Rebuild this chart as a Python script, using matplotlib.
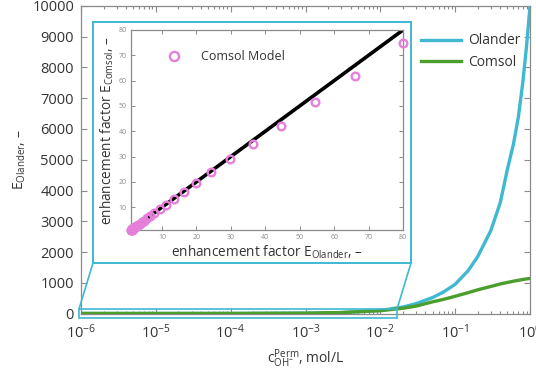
import matplotlib
matplotlib.use("Agg")
import matplotlib.pyplot as plt
from matplotlib.lines import Line2D
from matplotlib.patches import Rectangle
from matplotlib.ticker import LogLocator, NullFormatter, MultipleLocator

plt.rcParams['font.family'] = ['Open Sans', 'DejaVu Sans']
plt.rcParams['mathtext.fontset'] = 'custom'
plt.rcParams['mathtext.rm'] = 'Open Sans'
plt.rcParams['mathtext.it'] = 'Open Sans'
plt.rcParams['mathtext.bf'] = 'Open Sans'

# ---- main data ----
c_perm = [1e-6, 1e-5, 1e-4, 1e-3, 3e-3, 1e-2, 0.02, 0.03, 0.05, 0.07, 0.1,
          0.15, 0.2, 0.3, 0.4, 0.5, 0.6, 0.7, 0.8, 0.9, 1.0]
E_olander = [1, 1.1, 2, 11, 31, 100, 210, 320, 520, 700, 950,
             1400, 1850, 2700, 3600, 4700, 5500, 6400, 7500, 8700, 10000]
E_comsol = [1, 1.1, 2, 11, 30, 92, 170, 240, 380, 460, 560,
            680, 770, 880, 960, 1010, 1050, 1080, 1105, 1125, 1140]

# ---- inset data ----
inset_olander = [80, 66, 54.5, 44.5, 36.5, 29.8, 24.3, 19.8, 16.3, 13.5, 11.2,
                 9.3, 7.8, 6.6, 5.6, 4.8, 4.1, 3.55, 3.1, 2.72, 2.41, 2.16,
                 1.95, 1.78, 1.64, 1.53, 1.43, 1.35, 1.29, 1.24, 1.2, 1.16,
                 1.13, 1.1]
inset_comsol = [75, 62, 51.5, 42, 35, 29, 24, 19.5, 16, 13.3, 11,
                9.2, 7.7, 6.5, 5.55, 4.75, 4.08, 3.53, 3.08, 2.7, 2.4, 2.15,
                1.94, 1.77, 1.63, 1.52, 1.42, 1.34, 1.28, 1.23, 1.19, 1.15,
                1.12, 1.1]
parity = [1, 80]

CYAN = '#3fb8d2'
GREEN = '#4a9e2c'
PINK = '#e67fd9'
TXT = '#333333'
SPINE = '#8a8a8a'

W, H = 536, 369
fig = plt.figure(figsize=(W / 100, H / 100), dpi=100)

ax = fig.add_axes([81 / W, 1 - 313.5 / H, (530 - 81) / W, (313.5 - 6) / H])
ax.plot(c_perm, E_olander, color=CYAN, lw=2.4, label='Olander', zorder=3)
ax.plot(c_perm, E_comsol, color=GREEN, lw=2.4, label='Comsol', zorder=3)
ax.set_xscale('log')
ax.set_xlim(1e-6, 1)
ax.set_ylim(0, 10000)
ax.yaxis.set_major_locator(MultipleLocator(1000))
ax.xaxis.set_major_locator(LogLocator(base=10, numticks=10))
ax.xaxis.set_minor_locator(LogLocator(base=10, subs=range(2, 10), numticks=10))
ax.xaxis.set_minor_formatter(NullFormatter())
ax.tick_params(which='both', direction='in', top=True, right=True,
               colors=SPINE, labelcolor=TXT, labelsize=10.5, width=0.8)
ax.tick_params(which='major', length=4, pad=5)
ax.tick_params(axis='x', which='major', pad=7)
ax.tick_params(which='minor', length=2)
for s in ax.spines.values():
    s.set_color(SPINE)
    s.set_linewidth(0.9)
ax.set_ylabel(r'E$_{\mathregular{Olander}}$, –', fontsize=10, color=TXT, labelpad=3)
ax.set_xlabel(r'c$_{\mathregular{OH}^{-}}^{\mathregular{Perm}}$, mol/L', fontsize=10,
              color=TXT, labelpad=4)
leg = ax.legend(loc='upper left', bbox_to_anchor=(408 / W, 1 - 21 / H),
                bbox_transform=fig.transFigure, frameon=False, fontsize=10,
                handlelength=2.9, labelspacing=0.45, handletextpad=0.5)
for t in leg.get_texts():
    t.set_color(TXT)

# ---- zoom decoration (figure coordinates) ----
box = Rectangle((93 / W, 1 - 263 / H), (411 - 93) / W, (263 - 22) / H,
                transform=fig.transFigure, fill=False, edgecolor=CYAN, lw=1.4,
                zorder=5)
fig.patches.append(box)
small = Rectangle((79 / W, 1 - 318 / H), (397 - 79) / W, 9 / H,
                  transform=fig.transFigure, fill=False, edgecolor=CYAN, lw=1.2,
                  zorder=5)
fig.patches.append(small)
fig.lines.append(Line2D([93 / W, 79 / W], [1 - 263 / H, 1 - 309 / H],
                        transform=fig.transFigure, color=CYAN, lw=1.2))
fig.lines.append(Line2D([411 / W, 397 / W], [1 - 263 / H, 1 - 309 / H],
                        transform=fig.transFigure, color=CYAN, lw=1.2))

# ---- inset ----
ins = fig.add_axes([131 / W, 1 - 230 / H, (403 - 131) / W, (230 - 30) / H])
ins.plot(parity, parity, color='black', lw=2.6, zorder=2)
ins.plot(inset_olander, inset_comsol, linestyle='none', marker='o', ms=5.5,
         mfc='none', mec=PINK, mew=1.7, label='Comsol Model', zorder=3,
         clip_on=False)
ins.set_xlim(1, 80)
ins.set_ylim(1, 80)
ins.xaxis.set_major_locator(MultipleLocator(10))
ins.yaxis.set_major_locator(MultipleLocator(10))
ins.tick_params(direction='in', top=True, right=True, length=3, width=0.7,
                colors=SPINE, labelcolor='#8a8a8a', labelsize=5, pad=3)
for s in ins.spines.values():
    s.set_color(SPINE)
    s.set_linewidth(0.9)
ins.set_xlabel(r'enhancement factor E$_{\mathregular{Olander}}$, –', fontsize=9.8,
               color=TXT, labelpad=2)
ins.set_ylabel(r'enhancement factor E$_{\mathregular{Comsol}}$, –', fontsize=9.8,
               color=TXT, labelpad=2)
l2 = ins.legend(loc='upper left', bbox_to_anchor=(0.07, 0.955), frameon=False,
                fontsize=9, handletextpad=1.2, markerscale=1.2)
for t in l2.get_texts():
    t.set_color(TXT)

fig.savefig('out.png', dpi=100)
